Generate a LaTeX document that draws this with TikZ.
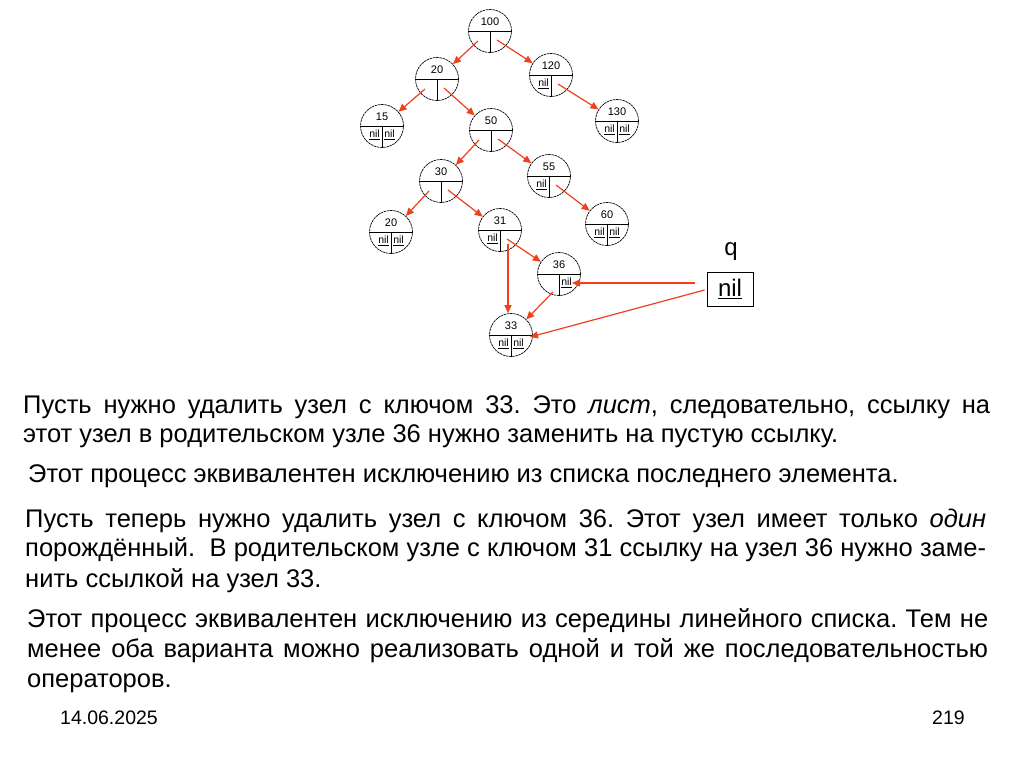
\documentclass[tikz,border=0pt]{standalone}
\usepackage{fontspec}
\setmainfont{Liberation Sans}
\usetikzlibrary{calc,arrows.meta}
\definecolor{ptrred}{RGB}{240,64,30}
\tikzset{
  tn/.style={circle,draw,minimum size=43pt,inner sep=0pt,line width=0.7pt,dash pattern=on 2.5pt off 0.7pt},
  tsep/.style={line width=0.8pt},
  keyt/.style={font=\fontsize{11}{11}\selectfont,inner sep=0pt},
  nilt/.style={font=\fontsize{10.5}{10.5}\selectfont,inner sep=0pt},
  ptr/.style={draw=ptrred,line width=1.2pt,-{Triangle[length=8pt,width=7pt]}},
  para/.style={anchor=base west,inner sep=0pt,font=\fontsize{25.5}{30}\selectfont},
  foot/.style={anchor=base west,inner sep=0pt,font=\fontsize{19.5}{24}\selectfont},
  qbox/.style={draw,line width=0.8pt,minimum width=46pt,minimum height=34pt,inner sep=0pt,font=\fontsize{24}{24}\selectfont},
  qlab/.style={inner sep=0pt,font=\fontsize{24}{24}\selectfont}
}
\newcommand{\tnode}[5]{%
  \node[tn] (#1) at (#2) {};
  \draw[tsep] (#1.west) -- (#1.east);
  \draw[tsep] (#1.center) -- (#1.south);
  \node[keyt] (#1-k) at ($(#1)+(0,-9)$) {#3};
  \node[nilt] (#1-l) at ($(#1)+(-7.5,9)$) {#4};
  \node[nilt] (#1-r) at ($(#1)+(7.5,9)$) {#5};
  \coordinate (#1L) at ($(#1)+(-12,10)$);
  \coordinate (#1R) at ($(#1)+(7,9)$);
}
\newcommand{\nl}{\underline{nil}}
\frenchspacing
\begin{document}
\begin{tikzpicture}[x=1pt,y=-1pt]
\useasboundingbox[fill=white] (0,0) rectangle (1024,767);
\tnode{n100}{490,31}{100}{}{}
\tnode{n20}{437,79}{20}{}{}
\tnode{n120}{551,75}{120}{\nl}{}
\tnode{n15}{382,126}{15}{\nl}{\nl}
\tnode{n50}{491,130}{50}{}{}
\tnode{n130}{617,121}{130}{\nl}{\nl}
\tnode{n30}{441,181}{30}{}{}
\tnode{n55}{549,176}{55}{\nl}{}
\tnode{n20b}{391,232}{20}{\nl}{\nl}
\tnode{n31}{500,230}{31}{\nl}{}
\tnode{n60}{607,224}{60}{\nl}{\nl}
\tnode{n36}{559,274}{36}{}{\nl}
\tnode{n33}{511,335}{33}{\nl}{\nl}
\coordinate (n31D) at ($(n31)+(8,14)$);
\coordinate (n36D) at ($(n36)+(-6,18)$);
\coordinate (n36in) at ($(n36)+(13,9)$);
\coordinate (n33in) at ($(n33)+(19,2)$);
\draw[ptr] (n100L) -- (n20);
\draw[ptr] (n100R) -- (n120);
\draw[ptr] (n20L) -- (n15);
\draw[ptr] (n20R) -- (n50);
\draw[ptr] (n120R) -- (n130);
\draw[ptr] (n50L) -- (n30);
\draw[ptr] (n50R) -- (n55);
\draw[ptr] (n30L) -- (n20b);
\draw[ptr] (n30R) -- (n31);
\draw[ptr] (n55R) -- (n60);
\draw[ptr] (n31R) -- (n36);
\draw[ptr] (n31D) -- (n31D |- n33.north);
\draw[ptr] (n36D) -- (n33);
\node[qbox] (q) at (730,289) {\underline{nil}};
\node[qlab] (qname) at (731,252) {q};
\coordinate (qs1) at ($(q.west)+(-12,-6)$);
\coordinate (qs2) at ($(q.west)+(-2,1)$);
\draw[ptr] (qs1) -- (n36in);
\draw[ptr] (qs2) -- (n33in);
\node[para] (p1a) at (23,413) {\makebox[967pt][s]{Пусть нужно удалить узел с ключом 33. Это \textit{лист}, следовательно, ссылку на}};
\node[para] (p1b) at (23,442) {этот узел в родительском узле 36 нужно заменить на пустую ссылку.};
\node[para] (p2a) at (28,482) {Этот процесс эквивалентен исключению из списка последнего элемента.};
\node[para] (p3a) at (25,527) {\makebox[961pt][s]{Пусть теперь нужно удалить узел с ключом 36. Этот узел имеет только \textit{один}}};
\node[para] (p3b) at (25,556) {\makebox[961pt][s]{порождённый.\ \ В родительском узле с ключом 31 ссылку на узел 36 нужно заме-}};
\node[para] (p3c) at (25,587) {нить ссылкой на узел 33.};
\node[para] (p4a) at (27,627) {\makebox[961pt][s]{Этот процесс эквивалентен исключению из середины линейного списка. Тем не}};
\node[para] (p4b) at (27,657) {\makebox[961pt][s]{менее оба варианта можно реализовать одной и той же последовательностью}};
\node[para] (p4c) at (27,687) {операторов.};
\node[foot] (date) at (60,724) {14.06.2025};
\node[foot] (pg) at (932,724) {219};
\end{tikzpicture}
\end{document}
